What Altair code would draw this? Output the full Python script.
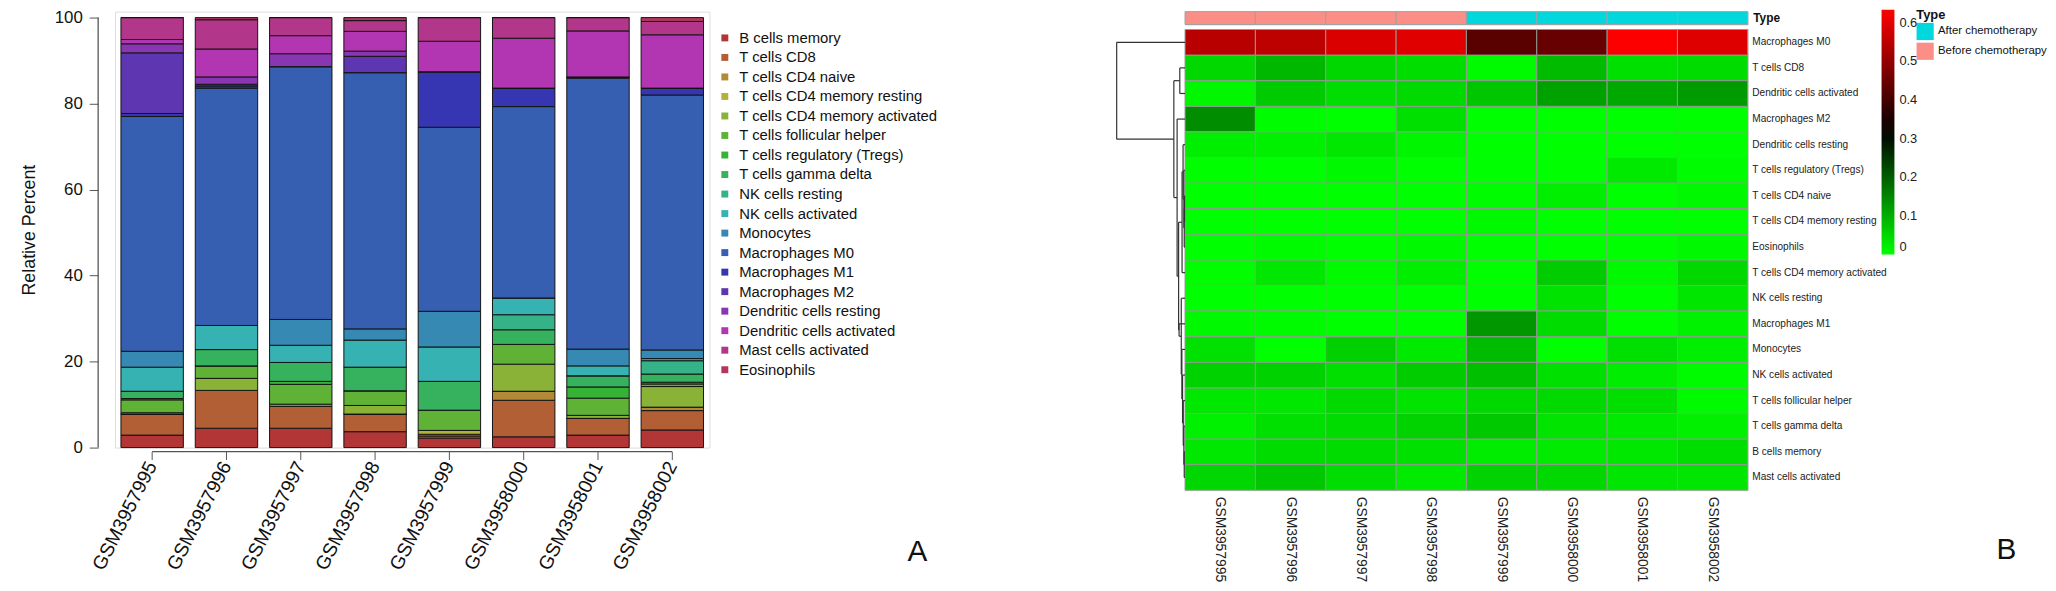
import altair as alt
import pandas as pd

# ---------------- data ----------------
samples = ["GSM3957995", "GSM3957996", "GSM3957997", "GSM3957998",
           "GSM3957999", "GSM3958000", "GSM3958001", "GSM3958002"]
sample_type = ["Before chemotherapy"] * 4 + ["After chemotherapy"] * 4

cell_types = ["B cells memory", "T cells CD8", "T cells CD4 naive",
              "T cells CD4 memory resting", "T cells CD4 memory activated",
              "T cells follicular helper", "T cells regulatory (Tregs)",
              "T cells gamma delta", "NK cells resting", "NK cells activated",
              "Monocytes", "Macrophages M0", "Macrophages M1", "Macrophages M2",
              "Dendritic cells resting", "Dendritic cells activated",
              "Mast cells activated", "Eosinophils"]

palette = ["#B23636", "#B25F36", "#B28936", "#B2B236", "#89B236", "#5FB236",
           "#36B236", "#36B25F", "#36B289", "#36B2B2", "#3689B2", "#365FB2",
           "#3636B2", "#5F36B2", "#8936B2", "#B236B2", "#B23689", "#B2365F"]

# relative percent per sample, in cell_types order
gsm3957995 = [2.9, 4.9, 0.0, 0.0, 0.3, 3.0, 0.3, 1.7, 0.0, 5.6, 3.7, 54.6, 0.7, 14.1, 2.1, 1.0, 5.1, 0.0]
gsm3957996 = [4.5, 8.8, 0.0, 0.0, 2.8, 2.9, 0.0, 3.8, 0.0, 5.6, 0.0, 55.2, 0.5, 0.4, 1.7, 6.5, 6.8, 0.5]
gsm3957997 = [4.5, 5.1, 0.0, 0.0, 0.5, 4.6, 0.7, 4.4, 0.0, 4.0, 6.0, 58.8, 0.0, 0.0, 3.0, 4.2, 4.2, 0.0]
gsm3957998 = [3.7, 4.1, 0.0, 0.0, 2.0, 3.4, 0.0, 5.5, 0.0, 6.3, 2.6, 59.6, 0.0, 3.8, 1.2, 4.6, 2.5, 0.7]
gsm3957999 = [2.2, 0.5, 0.4, 0.9, 0.0, 4.7, 0.0, 6.7, 0.0, 8.0, 8.3, 42.8, 12.9, 0.0, 0.0, 7.1, 5.5, 0.0]
gsm3958000 = [2.5, 8.5, 2.1, 0.0, 6.3, 4.6, 0.0, 3.4, 3.5, 3.9, 0.0, 44.5, 4.3, 0.0, 0.0, 11.6, 4.8, 0.0]
gsm3958001 = [2.9, 3.9, 0.0, 0.0, 0.7, 4.0, 2.6, 2.6, 0.0, 2.3, 3.9, 63.0, 0.3, 0.0, 0.0, 10.7, 3.1, 0.0]
gsm3958002 = [4.1, 4.5, 0.8, 0.0, 4.8, 0.6, 0.4, 1.9, 3.1, 0.5, 2.0, 59.3, 1.6, 0.0, 0.0, 12.4, 3.1, 0.9]
sample_values = [gsm3957995, gsm3957996, gsm3957997, gsm3957998,
                 gsm3957999, gsm3958000, gsm3958001, gsm3958002]

# heatmap row order (after clustering)
heat_rows = ["Macrophages M0", "T cells CD8", "Dendritic cells activated",
             "Macrophages M2", "Dendritic cells resting",
             "T cells regulatory (Tregs)", "T cells CD4 naive",
             "T cells CD4 memory resting", "Eosinophils",
             "T cells CD4 memory activated", "NK cells resting",
             "Macrophages M1", "Monocytes", "NK cells activated",
             "T cells follicular helper", "T cells gamma delta",
             "B cells memory", "Mast cells activated"]

# row dendrogram merges: (left, right, height); "mK" = K-th merge
dendro_merges = [
    ("T cells CD4 naive", "T cells CD4 memory resting", 0.005),
    ("m0", "Eosinophils", 0.008),
    ("T cells regulatory (Tregs)", "m1", 0.012),
    ("Dendritic cells resting", "m2", 0.020),
    ("m3", "T cells CD4 memory activated", 0.030),
    ("B cells memory", "Mast cells activated", 0.008),
    ("T cells gamma delta", "m5", 0.012),
    ("T cells follicular helper", "m6", 0.018),
    ("NK cells activated", "m7", 0.025),
    ("Monocytes", "m8", 0.032),
    ("NK cells resting", "m9", 0.038),
    ("Macrophages M1", "m10", 0.060),
    ("m4", "m11", 0.065),
    ("Macrophages M2", "m12", 0.080),
    ("T cells CD8", "Dendritic cells activated", 0.053),
    ("m14", "m13", 0.113),
    ("Macrophages M0", "m15", 0.690),
]

# ---------------- tables ----------------
rowsA = []
for s, vals in zip(samples, sample_values):
    for i, (c, v) in enumerate(zip(cell_types, vals)):
        rowsA.append({"sample": s, "cell": c, "idx": i, "pct": v})
dfA = pd.DataFrame(rowsA)

rowsH = []
for s, vals in zip(samples, sample_values):
    for c, v in zip(cell_types, vals):
        rowsH.append({"sample": s, "cell": c, "frac": v / 100.0})
dfH = pd.DataFrame(rowsH)

dfT = pd.DataFrame({"sample": samples, "type": sample_type, "lab": ["Type"] * len(samples)})

pos = {name: (heat_rows.index(name) + 0.5, 0.0) for name in heat_rows}
segs = []
for k, (a, b, h) in enumerate(dendro_merges):
    ya, ha = pos[a]
    yb, hb = pos[b]
    segs.append({"x1": -h, "x2": -h, "y1": ya, "y2": yb})
    segs.append({"x1": -ha, "x2": -h, "y1": ya, "y2": ya})
    segs.append({"x1": -hb, "x2": -h, "y1": yb, "y2": yb})
    pos["m%d" % k] = ((ya + yb) / 2.0, h)
dfD = pd.DataFrame(segs)

SANS = "Liberation Sans, Arial, Helvetica"

# ---------------- panel A ----------------
A_H = 440
A_TOP = 100.0 * A_H / 434.0

bars = alt.Chart(dfA).mark_bar(stroke="#141414", strokeWidth=1).encode(
    x=alt.X("sample:N", sort=samples,
            scale=alt.Scale(paddingInner=0.16, paddingOuter=0.08),
            axis=alt.Axis(title=None, labelAngle=-63, labelFontSize=19.5, labelFont=SANS,
                          domain=False, tickSize=8, tickColor="#555555", offset=4,
                          labelPadding=3, labelColor="#111111")),
    y=alt.Y("pct:Q", stack="zero", scale=alt.Scale(domain=[0, A_TOP], nice=False),
            axis=alt.Axis(values=[0, 20, 40, 60, 80, 100], title="Relative Percent",
                          offset=17, tickSize=9, grid=False, labelFontSize=17,
                          titleFontSize=18, titleFontWeight="normal", titleFont=SANS,
                          labelFont=SANS, domain=False, tickColor="#555555",
                          labelPadding=7, titlePadding=16, labelColor="#111111",
                          titleColor="#111111")),
    color=alt.Color("cell:N", sort=cell_types,
                    scale=alt.Scale(domain=cell_types, range=palette),
                    legend=alt.Legend(title=None, orient="none", legendX=608, legendY=19,
                                      symbolType="square", symbolSize=49,
                                      symbolStrokeWidth=0, labelFontSize=15,
                                      labelFont=SANS, rowPadding=3.7, labelOffset=7,
                                      labelColor="#111111", labelLimit=400)),
    order=alt.Order("idx:Q", sort="ascending"),
)

yline = alt.Chart(pd.DataFrame({"lo": [0], "hi": [100]})).mark_rule(
    color="#555555", strokeWidth=1.3).encode(
    y=alt.Y("lo:Q"), y2=alt.Y2("hi"), x=alt.value(-17))

xline = alt.Chart(pd.DataFrame({"a": [samples[0]], "b": [samples[-1]]})).mark_rule(
    color="#555555", strokeWidth=1.3).encode(
    x=alt.X("a:N", sort=samples), x2=alt.X2("b"), y=alt.value(A_H + 4))

atext = alt.Chart(pd.DataFrame({"t": ["A"]})).mark_text(
    fontSize=30, font=SANS, color="#111111").encode(
    text="t:N", x=alt.value(810), y=alt.value(545))

panelA = alt.layer(bars, yline, xline, atext).properties(width=600, height=A_H)

# ---------------- panel B ----------------
heat = alt.Chart(dfH).mark_rect(stroke="#8f9a8f", strokeWidth=1).encode(
    x=alt.X("sample:N", sort=samples, scale=alt.Scale(paddingInner=0, paddingOuter=0),
            axis=alt.Axis(title=None, labelAngle=90, labelFontSize=14, labelFont=SANS,
                          ticks=False, domain=False, labelPadding=6,
                          labelColor="#222222")),
    y=alt.Y("cell:N", sort=heat_rows, scale=alt.Scale(paddingInner=0, paddingOuter=0),
            axis=alt.Axis(title=None, orient="right", labelFontSize=10.2, labelFont=SANS,
                          ticks=False, domain=False, labelPadding=4,
                          labelColor="#222222", labelLimit=300)),
    color=alt.Color("frac:Q",
                    scale=alt.Scale(domain=[0, 0.317, 0.634],
                                    range=["#00ff00", "#000000", "#ff0000"],
                                    interpolate="rgb"),
                    legend=alt.Legend(title=None, orient="none", legendX=703, legendY=-20,
                                      gradientLength=247, gradientThickness=13,
                                      values=[0, 0.1, 0.2, 0.3, 0.4, 0.5, 0.6],
                                      format=".1~f", labelFontSize=13, labelFont=SANS,
                                      labelColor="#222222", labelOffset=5,
                                      gradientStrokeWidth=0)),
)

dendro = alt.Chart(dfD).mark_rule(color="#333333", strokeWidth=1.2).encode(
    x=alt.X("x1:Q", scale=alt.Scale(domain=[0, 5.68], nice=False, zero=False), axis=None),
    x2="x2:Q",
    y=alt.Y("y1:Q", scale=alt.Scale(domain=[0, 18], reverse=True, nice=False), axis=None),
    y2="y2:Q",
)

btext = alt.Chart(pd.DataFrame({"t": ["B"]})).mark_text(
    fontSize=30, font=SANS, color="#111111").encode(
    text="t:N", x=alt.value(829), y=alt.value(525))

heat_layer = alt.layer(heat, dendro, btext).resolve_scale(
    x="independent", y="independent").properties(width=568, height=465)

annot = alt.Chart(dfT).mark_rect(stroke="#a0a0a0", strokeWidth=1).encode(
    x=alt.X("sample:N", sort=samples, scale=alt.Scale(paddingInner=0, paddingOuter=0),
            axis=None),
    y=alt.Y("lab:N", axis=alt.Axis(title=None, orient="right", ticks=False, domain=False,
                                   labelFontSize=12, labelFontWeight="bold",
                                   labelFont=SANS, labelPadding=5, labelColor="#111111")),
    color=alt.Color("type:N",
                    scale=alt.Scale(domain=["After chemotherapy", "Before chemotherapy"],
                                    range=["#00D8DE", "#FB8F87"]),
                    legend=alt.Legend(title="Type", orient="none", legendX=738, legendY=-3,
                                      titleFontSize=13, titleFontWeight="bold",
                                      titleFont=SANS, titlePadding=1,
                                      symbolType="square", symbolSize=300,
                                      symbolStrokeWidth=0, labelFontSize=11.5,
                                      labelFont=SANS, labelOffset=4, rowPadding=2,
                                      labelColor="#111111", titleColor="#111111")),
).properties(width=568, height=13)

panelB = alt.vconcat(annot, heat_layer, spacing=5, bounds="flush")

chart = alt.hconcat(panelA, panelB, spacing=480, bounds="flush").properties(
    padding={"left": 12, "top": -3, "right": 0, "bottom": 0}
).configure_view(stroke=None).configure(font=SANS)

chart.save("out.html", embed_options={"renderer": "svg", "actions": False})
